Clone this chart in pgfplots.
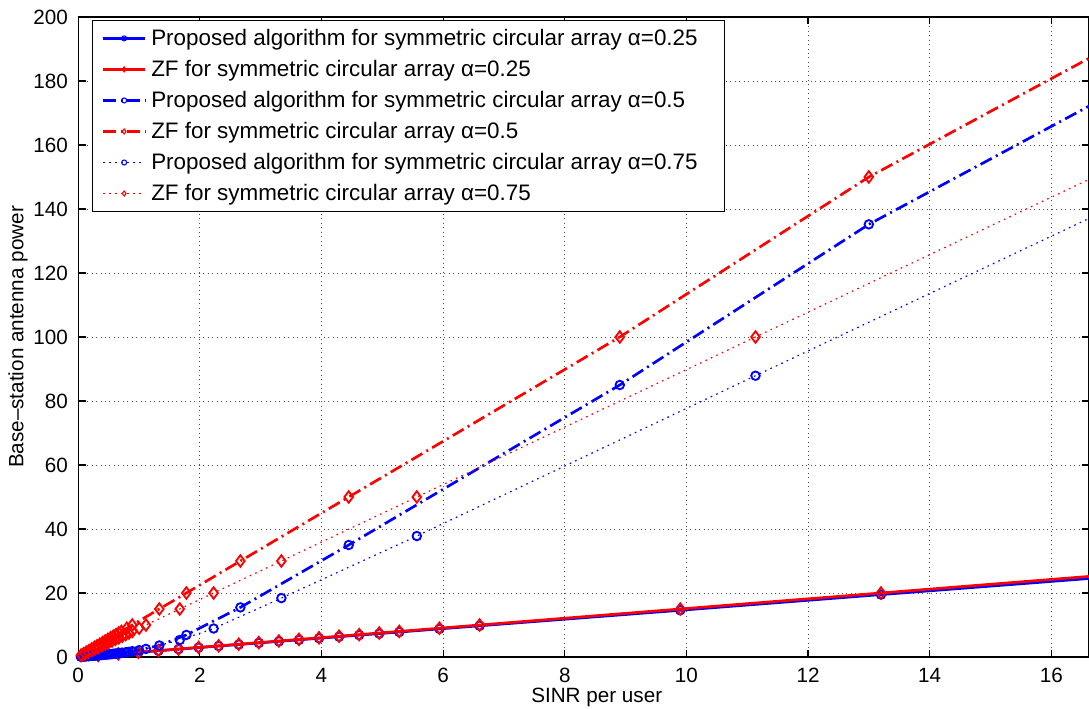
\documentclass[border=0pt]{standalone}
\usepackage{fontspec}
\setmainfont{Liberation Sans}
\usepackage{pgfplots}
\usepackage{pgfplotstable}
\pgfplotsset{compat=1.18}
\definecolor{mblue}{rgb}{0,0,1}
\definecolor{mred}{rgb}{1,0,0}

% alpha = 0.25
\pgfplotstableread{
x prop zf
0.33 0.49 0.5
0.66 0.98 1
0.99 1.46 1.5
1.32 1.95 2
1.65 2.44 2.5
1.98 2.93 3
2.31 3.41 3.5
2.64 3.90 4
2.97 4.39 4.5
3.30 4.88 5
3.63 5.36 5.5
3.96 5.85 6
4.29 6.34 6.5
4.62 6.83 7
4.95 7.31 7.5
5.28 7.80 8
5.94 8.78 9
6.60 9.75 10
9.90 14.6 15
13.20 19.5 20
19.80 29.2 30
}\tabA

% alpha = 0.5
\pgfplotstableread{
x prop zf
0.044 0.067 0.5
0.089 0.134 1
0.133 0.201 1.5
0.178 0.270 2
0.222 0.340 2.5
0.267 0.412 3
0.311 0.485 3.5
0.356 0.561 4
0.400 0.640 4.5
0.444 0.721 5
0.489 0.806 5.5
0.533 0.894 6
0.578 0.986 6.5
0.622 1.083 7
0.667 1.184 7.5
0.711 1.290 8
0.800 1.517 9
0.889 1.769 10
1.334 3.6 15
1.779 6.9 20
2.667 15.5 30
4.448 35.0 50
8.905 85.0 100
13.000 135.2 150
17.880 185.0 200
}\tabB

% alpha = 0.75
\pgfplotstableread{
x prop zf
0.056 0.084 0.5
0.111 0.168 1
0.167 0.253 1.5
0.223 0.341 2
0.278 0.431 2.5
0.334 0.524 3
0.390 0.621 3.5
0.445 0.723 4
0.501 0.830 4.5
0.557 0.942 5
0.612 1.061 5.5
0.668 1.187 6
0.724 1.321 6.5
0.780 1.463 7
0.835 1.614 7.5
0.891 1.774 8
1.002 2.127 9
1.114 2.526 10
1.670 5.3 15
2.227 8.9 20
3.341 18.4 30
5.568 37.8 50
11.136 87.9 100
16.704 137.8 150
}\tabC

\begin{document}
\begin{tikzpicture}
\begin{axis}[
  scale only axis,
  width=758.1pt, height=480pt,
  xmin=0, xmax=16.62, ymin=0, ymax=200,
  xtick={0,2,...,16}, ytick={0,20,...,200},
  tick align=inside,
  major tick length=5.5pt,
  axis line style={line width=0.8pt},
  every tick/.style={black, line width=0.8pt},
  grid=major,
  major grid style={black!70, line width=0.6pt, dash pattern=on 0.75pt off 2.6pt},
  /pgf/number format/assume math mode=true,
  tick label style={font=\fontsize{15.5}{18}\selectfont},
  yticklabel style={inner sep=0pt, xshift=-7.5pt, anchor=east},
  xticklabel style={inner sep=0pt, yshift=-8pt, anchor=north},
  label style={font=\fontsize{15.5}{18}\selectfont},
  xlabel={SINR per user},
  ylabel={Base--station antenna power},
  xlabel style={at={(axis description cs:0.513,-0.0625)}, anchor=center},
  ylabel style={at={(axis description cs:-0.0594,0.5)}, anchor=center},
  legend cell align=left,
  legend style={at={(rel axis cs:0.01395,0.995)}, anchor=north west,
    draw=black, line width=0.6pt, fill=white,
    font=\fontsize{16.8}{19}\selectfont,
    inner xsep=7pt, inner ysep=5.5pt,
    nodes={inner xsep=0pt, inner ysep=1pt},
    row sep=7.6pt, column sep=3.75pt},
  legend image code/.code={
    \draw[mark repeat=2, mark phase=2, mark size=1.9pt, mark options={solid, line width=0.8pt}]
      plot coordinates {(0pt,0pt) (15.6pt,0pt) (31.2pt,0pt)};
  },
  dashdot/.style={dash pattern=on 9.5pt off 3.5pt on 1.5pt off 3.5pt},
  dots/.style={dash pattern=on 1.2pt off 3.3pt},
]
\addplot[mblue, line width=2pt, mark=o, mark size=3.2pt, mark options={solid, line width=1.4pt}]
  table[x=x, y=prop] {\tabA};
\addlegendentry{Proposed algorithm for symmetric circular array α=0.25\hspace{13pt}\null}
\addplot[mred, line width=2pt, mark=diamond, mark size=4.3pt, mark options={solid, line width=1.4pt}]
  table[x=x, y=zf] {\tabA};
\addlegendentry{ZF for symmetric circular array α=0.25}
\addplot[mblue, line width=2pt, dashdot, mark=o, mark size=3.2pt, mark options={solid, line width=1.4pt}]
  table[x=x, y=prop] {\tabB};
\addlegendentry{Proposed algorithm for symmetric circular array α=0.5}
\addplot[mred, line width=2pt, dashdot, mark=diamond, mark size=4.3pt, mark options={solid, line width=1.4pt}]
  table[x=x, y=zf] {\tabB};
\addlegendentry{ZF for symmetric circular array α=0.5}
\addplot[mblue, line width=0.9pt, dots, mark=o, mark size=3.2pt, mark options={solid, line width=1.4pt}]
  table[x=x, y=prop] {\tabC};
\addlegendentry{Proposed algorithm for symmetric circular array α=0.75}
\addplot[mred, line width=0.9pt, dots, mark=diamond, mark size=4.3pt, mark options={solid, line width=1.4pt}]
  table[x=x, y=zf] {\tabC};
\addlegendentry{ZF for symmetric circular array α=0.75}
\end{axis}
\pgfresetboundingbox
\path[use as bounding box] ([xshift=-58.65pt,yshift=-39pt]current axis.south west) rectangle ([yshift=12.75pt]current axis.north east);
\end{tikzpicture}
\end{document}
